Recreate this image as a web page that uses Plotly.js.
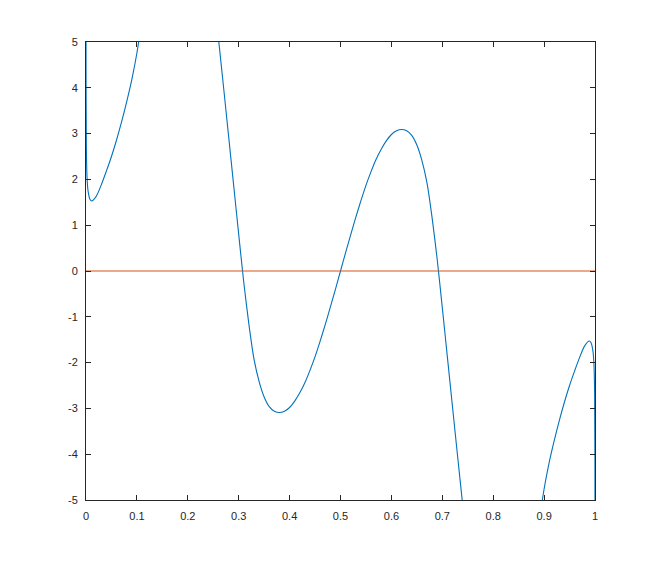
<!DOCTYPE html>
<html>
<head>
<meta charset="utf-8">
<script src="https://cdn.plot.ly/plotly-3.0.1.min.js"></script>
<style>html,body{margin:0;padding:0;background:#fff;}#chart{width:659px;height:563px;}</style>
</head>
<body>
<div id="chart"></div>
<script>
// Curve values (segments beyond ±5 are clipped by the axes)
var curveX = [0, 0.00005, 0.0007, 0.002, 0.004, 0.008, 0.0112, 0.02, 0.03, 0.04, 0.05, 0.06, 0.07, 0.08, 0.09, 0.1, 0.11, 0.12,
  0.25, 0.26, 0.27, 0.28, 0.29, 0.30, 0.31, 0.32, 0.33, 0.34, 0.35, 0.36, 0.37, 0.38, 0.39, 0.40, 0.41, 0.42, 0.43, 0.44, 0.45,
  0.46, 0.47, 0.48, 0.49, 0.50, 0.51, 0.52, 0.53, 0.54, 0.55, 0.56, 0.57, 0.58, 0.59, 0.60, 0.61, 0.62, 0.63, 0.64, 0.65, 0.66,
  0.67, 0.68, 0.69, 0.70, 0.71, 0.72, 0.73, 0.74, 0.75,
  0.88, 0.89, 0.90, 0.91, 0.92, 0.93, 0.94, 0.95, 0.96, 0.97, 0.98, 0.9888, 0.992, 0.996, 0.998, 0.9993, 0.99995, 1];
var curveY = [14, 4.5, 2.7, 2.05, 1.75, 1.56, 1.53, 1.63, 1.88, 2.18, 2.5, 2.86, 3.26, 3.7, 4.18, 4.76, 5.5, 6.3,
  6.2, 5.1, 4.04, 2.96, 1.88, 0.8, -0.25, -1.16, -1.92, -2.41, -2.75, -2.96, -3.06, -3.09, -3.06, -2.98, -2.84, -2.66, -2.44, -2.17, -1.87,
  -1.53, -1.17, -0.79, -0.40, 0.0, 0.40, 0.79, 1.17, 1.53, 1.87, 2.17, 2.44, 2.66, 2.84, 2.98, 3.06, 3.09, 3.06, 2.96, 2.75, 2.41,
  1.92, 1.16, 0.25, -0.8, -1.88, -2.96, -4.04, -5.1, -6.2,
  -6.3, -5.5, -4.76, -4.18, -3.7, -3.26, -2.86, -2.5, -2.18, -1.88, -1.63, -1.53, -1.56, -1.75, -2.05, -2.7, -4.5, -14];
var zeroX = [0, 1];
var zeroY = [0, 0];
var xTickVals = [0, 0.1, 0.2, 0.3, 0.4, 0.5, 0.6, 0.7, 0.8, 0.9, 1];
var xTickText = ['0', '0.1', '0.2', '0.3', '0.4', '0.5', '0.6', '0.7', '0.8', '0.9', '1'];
var yTickVals = [-5, -4, -3, -2, -1, 0, 1, 2, 3, 4, 5];
var yTickText = ['-5', '-4', '-3', '-2', '-1', '0', '1', '2', '3', '4', '5'];

var traces = [
  {x: curveX, y: curveY, type: 'scatter', mode: 'lines', line: {color: '#0072BD', width: 1.1, shape: 'spline', smoothing: 0.8}, hoverinfo: 'skip'},
  {x: zeroX, y: zeroY, type: 'scatter', mode: 'lines', line: {color: '#D95319', width: 1.1}, hoverinfo: 'skip'}
];
var axisCommon = {
  showline: true, mirror: 'ticks', linecolor: '#262626', linewidth: 1,
  ticks: 'inside', ticklen: 5, tickwidth: 1, tickcolor: '#262626',
  showgrid: false, zeroline: false, tickmode: 'array',
  tickfont: {family: 'Liberation Sans, Arial, sans-serif', size: 11, color: '#262626'}
};
var layout = {
  width: 659, height: 563,
  margin: {l: 86, r: 64, t: 42, b: 63, pad: 0},
  paper_bgcolor: '#ffffff', plot_bgcolor: '#ffffff',
  showlegend: false,
  xaxis: Object.assign({}, axisCommon, {range: [0, 1], tickvals: xTickVals, ticktext: xTickText, ticklabelstandoff: 6}),
  yaxis: Object.assign({}, axisCommon, {range: [-5, 5], tickvals: yTickVals, ticktext: yTickText, ticklabelstandoff: 5})
};
Plotly.newPlot('chart', traces, layout, {staticPlot: true, displayModeBar: false});
</script>
</body>
</html>
